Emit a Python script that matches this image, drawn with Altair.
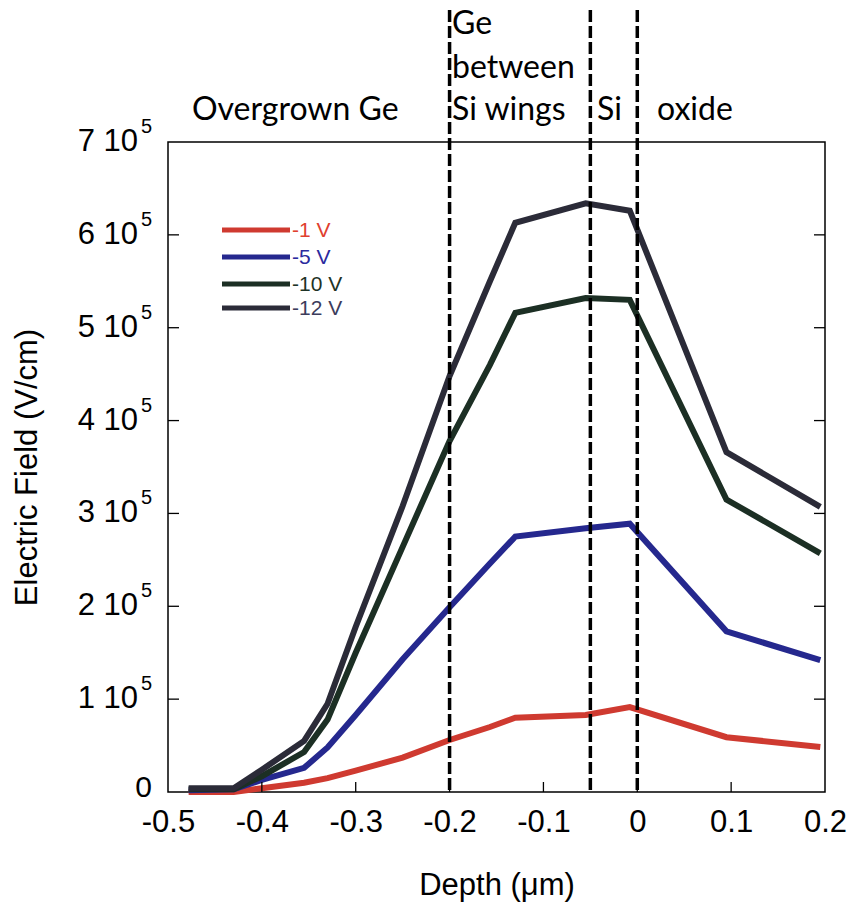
import altair as alt
import pandas as pd

# ---------------- data ----------------
depth = [-0.478, -0.43, -0.40, -0.355, -0.33, -0.30, -0.25, -0.20, -0.157, -0.13, -0.055, -0.008, 0.095, 0.195]

field_1v = [0, 0, 4000, 10000, 15000, 23000, 37000, 56000, 70000, 80000, 83000, 91500, 59000, 48500]
field_5v = [2000, 3000, 13000, 26000, 48000, 83000, 143000, 199000, 246000, 275000, 284000, 289000, 173000, 142000]
field_10v = [3000, 3000, 17000, 43000, 78000, 150000, 264000, 378000, 460000, 516000, 532000, 530000, 315000, 257000]
field_12v = [4000, 4000, 24000, 55000, 95000, 178000, 308000, 448000, 550000, 613000, 634000, 626000, 366000, 307000]

series_names = ["-1 V", "-5 V", "-10 V", "-12 V"]
series_values = [field_1v, field_5v, field_10v, field_12v]
line_colors = ["#cf3a30", "#25288e", "#1c2f24", "#2b2b38"]
label_colors = ["#e0402e", "#2a2a9e", "#1e3326", "#3c3c5c"]

boundaries = [-0.2, -0.05, 0.0]

x_ticks = [-0.5, -0.4, -0.3, -0.2, -0.1, 0.0, 0.1, 0.2]
y_ticks = [0, 100000, 200000, 300000, 400000, 500000, 600000, 700000]
y_mantissa = ["0", "1 10", "2 10", "3 10", "4 10", "5 10", "6 10", "7 10"]
y_exponent = ["", "5", "5", "5", "5", "5", "5", "5"]

regions = ["Overgrown Ge", "Ge", "between", "Si wings", "Si", "oxide"]

# ---------------- layout ----------------
W, H = 657, 650
FONT = "Liberation Sans"
xs = alt.Scale(domain=[-0.5, 0.2], nice=False, zero=False)
ys = alt.Scale(domain=[0, 700000], nice=False)

rows = []
for name, vals in zip(series_names, series_values):
    for d, v in zip(depth, vals):
        rows.append({"depth": d, "field": v, "series": name})
df = pd.DataFrame(rows)

lines = alt.Chart(df).mark_line(strokeWidth=6, strokeJoin="miter", strokeCap="butt").encode(
    x=alt.X("depth:Q", scale=xs,
            axis=alt.Axis(values=x_ticks, title="Depth (μm)", ticks=False, tickSize=0, domain=False,
                          grid=False, labelFont=FONT, labelFontSize=31, labelColor="black",
                          labelPadding=15, labelFlush=False, labelOverlap=False,
                          labelExpr="abs(datum.value) < 1e-9 ? '0' : (datum.value < 0 ? '-' : '') + format(abs(datum.value), '.1f')",
                          titleFont=FONT, titleFontSize=31, titleFontWeight="normal", titleColor="black",
                          titleY=102, titleBaseline="alphabetic")),
    y=alt.Y("field:Q", scale=ys,
            axis=alt.Axis(values=y_ticks, title="Electric Field (V/cm)", labels=False, ticks=False,
                          tickSize=0, domain=False, grid=False,
                          titleFont=FONT, titleFontSize=31, titleFontWeight="normal", titleColor="black",
                          titleX=-132, titleY=325, titleBaseline="alphabetic", titleAngle=270)),
    color=alt.Color("series:N", scale=alt.Scale(domain=series_names, range=line_colors), legend=None),
    detail="series:N",
)

# dashed region boundaries (extend above plot)
bdf = pd.DataFrame({"x": boundaries})
bounds = alt.Chart(bdf).mark_rule(color="black", strokeWidth=3.5, strokeDash=[12, 4]).encode(
    x=alt.X("x:Q", scale=xs), y=alt.value(-132), y2=alt.value(H)
)

# inward ticks
ytdf = pd.DataFrame({"v": y_ticks[1:-1]})
xtdf = pd.DataFrame({"v": x_ticks[1:-1]})
tick_l = alt.Chart(ytdf).mark_rule(color="black", strokeWidth=1.3).encode(
    y=alt.Y("v:Q", scale=ys), x=alt.value(0), x2=alt.value(11))
tick_r = alt.Chart(ytdf).mark_rule(color="black", strokeWidth=1.3).encode(
    y=alt.Y("v:Q", scale=ys), x=alt.value(W - 11), x2=alt.value(W))
tick_b = alt.Chart(xtdf).mark_rule(color="black", strokeWidth=1.3).encode(
    x=alt.X("v:Q", scale=xs), y=alt.value(H - 10), y2=alt.value(H))

# y labels with superscript exponent
ydf = pd.DataFrame({"v": y_ticks, "m": y_mantissa, "e": y_exponent})
ylab = alt.Chart(ydf).transform_filter("datum.v > 0").mark_text(
    align="right", baseline="middle", font=FONT, fontSize=31, color="black").encode(
    y=alt.Y("v:Q", scale=ys), x=alt.value(-30), text="m:N")
ylab0 = alt.Chart(ydf).transform_filter("datum.v == 0").mark_text(
    align="right", baseline="middle", font=FONT, fontSize=30, color="black", dy=-4).encode(
    y=alt.Y("v:Q", scale=ys), x=alt.value(-16), text="m:N")
yexp = alt.Chart(ydf).transform_filter("datum.v > 0").mark_text(
    align="right", baseline="middle", font=FONT, fontSize=20, color="black", dy=-15).encode(
    y=alt.Y("v:Q", scale=ys), x=alt.value(-16), text="e:N")

layers = [lines, bounds, tick_l, tick_r, tick_b, ylab, ylab0, yexp]

# legend (drawn manually so label colours follow the lines)
leg_y = [88, 115, 142, 166]
for name, lc, tc, yy in zip(series_names, line_colors, label_colors, leg_y):
    ldf = pd.DataFrame({"series": [name]})
    layers.append(alt.Chart(ldf).mark_rule(color=lc, strokeWidth=5).encode(
        x=alt.value(54), x2=alt.value(122), y=alt.value(yy)))
    layers.append(alt.Chart(ldf).mark_text(align="left", baseline="middle", font=FONT,
                                           fontSize=21, color=tc).encode(
        x=alt.value(124), y=alt.value(yy + 1), text="series:N"))

# region labels above the plot
REG_FONT = "Lato"
reg_pos = [(24, -32), (284, -118), (284, -74), (284, -32), (429, -32), (489, -32)]
for txt, (px, py) in zip(regions, reg_pos):
    rdf = pd.DataFrame({"t": [txt]})
    layers.append(alt.Chart(rdf).mark_text(align="left", baseline="middle", font=REG_FONT,
                                           fontSize=32, color="black").encode(
        x=alt.value(px), y=alt.value(py), text="t:N"))

chart = alt.layer(*layers).properties(
    width=W, height=H,
    padding={"left": 168, "top": 142, "right": 28, "bottom": 113},
    autosize=alt.AutoSizeParams(type="none"),
    background="white",
).configure_view(stroke="black", strokeWidth=1.5)

chart.save("out.html", embed_options={"renderer": "svg", "actions": False})
